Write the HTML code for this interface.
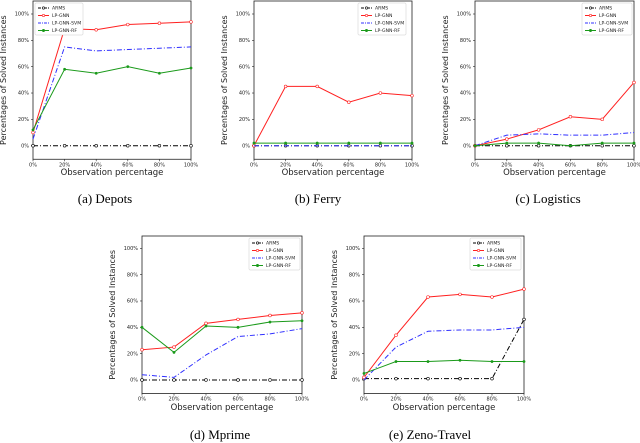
<!DOCTYPE html>
<html><head><meta charset="utf-8">
<style>
body{margin:0;background:#fff;width:640px;height:443px;overflow:hidden}
svg{display:block}
text{font-family:"DejaVu Sans","Liberation Sans",sans-serif}
.cap{font-family:"Liberation Serif",serif;font-size:13px}
</style></head>
<body>
<svg id="fig" width="640" height="443" viewBox="0 0 640 443" xmlns="http://www.w3.org/2000/svg"></svg>
<script>
const xCategories = [0, 20, 40, 60, 80, 100];
const xTickLabels = ["0%","20%","40%","60%","80%","100%"];
const yTickValues = [0, 20, 40, 60, 80, 100];
const yTickLabels = ["0%","20%","40%","60%","80%","100%"];
const seriesNames = ["ARMS","LP-GNN","LP-GNN-SVM","LP-GNN-RF"];

const depotsARMS = [0,0,0,0,0,0];
const depotsGNN = [10,89,88,92,93,94];
const depotsSVM = [5,75,72,73,74,75];
const depotsRF = [12,58,55,60,55,59];

const ferryARMS = [0,0,0,0,0,0];
const ferryGNN = [0,45,45,33,40,38];
const ferrySVM = [0,0,0,0,0,0];
const ferryRF = [2,2,2,2,2,2];

const logisticsARMS = [0,0,0,0,0,0];
const logisticsGNN = [0,5,12,22,20,48];
const logisticsSVM = [0,8,9,8,8,10];
const logisticsRF = [0,2,2,0,2,2];

const mprimeARMS = [0,0,0,0,0,0];
const mprimeGNN = [23,25,43,46,49,51];
const mprimeSVM = [4,2,19,33,35,39];
const mprimeRF = [40,21,41,40,44,45];

const zenoARMS = [1,1,1,1,1,46];
const zenoGNN = [2,34,63,65,63,69];
const zenoSVM = [0,25,37,38,38,40];
const zenoRF = [5,14,14,15,14,14];

const NS = "http://www.w3.org/2000/svg";
const fig = document.getElementById('fig');
function mk(tag, attrs, parent){
  const e = document.createElementNS(NS, tag);
  for (const k in attrs) e.setAttribute(k, attrs[k]);
  (parent||fig).appendChild(e);
  return e;
}
const styles = [
  {color:"#000", dash:"5,2,1,2", marker:"circle"},
  {color:"#ff2020", dash:"", marker:"open"},
  {color:"#3030ff", dash:"5,2,1,2", marker:"none"},
  {color:"#1a9a1a", dash:"", marker:"dot"}
];
const panels = [
  {key:"depots", cap:"(a)  Depots", x0:33, x1:191, yTop:1, yZero:145.7, capX:105, capY:203, xl:175, data:[depotsARMS,depotsGNN,depotsSVM,depotsRF], legend:[35,3], legendW:48},
  {key:"ferry", cap:"(b)  Ferry", x0:254, x1:412, yTop:1, yZero:145.7, capX:318, capY:203, xl:175, data:[ferryARMS,ferryGNN,ferrySVM,ferryRF], legend:[358,3], legendW:48},
  {key:"logistics", cap:"(c)  Logistics", x0:475, x1:634, yTop:1, yZero:145.7, capX:548, capY:203, xl:175, data:[logisticsARMS,logisticsGNN,logisticsSVM,logisticsRF], legend:[582,3], legendW:50},
  {key:"mprime", cap:"(d)  Mprime", x0:142, x1:302, yTop:236, yZero:380, capX:220, capY:439, xl:410, data:[mprimeARMS,mprimeGNN,mprimeSVM,mprimeRF], legend:[249,238], legendW:51},
  {key:"zeno", cap:"(e)  Zeno-Travel", x0:364, x1:524, yTop:236, yZero:380, capX:430, capY:439, xl:410, data:[zenoARMS,zenoGNN,zenoSVM,zenoRF], legend:[470,238], legendW:51}
];
const PX = 1.317;
panels.forEach(p=>{
  const g = mk('g', {});
  
  
  const sx = v => p.x0 + (v/100)*(p.x1-p.x0);
  const sy = v => p.yZero - v*PX;
  const yBot = sy(-10.3);
  const frame = mk('rect', {x:p.x0, y:p.yTop, width:p.x1-p.x0, height:yBot-p.yTop, fill:'none', stroke:'#222', 'stroke-width':0.8}, g);
  
  
  yTickValues.forEach((v,i)=>{
    mk('line',{x1:p.x0-2,x2:p.x0,y1:sy(v),y2:sy(v),stroke:'#222','stroke-width':0.6},g);
    const t = mk('text',{x:p.x0-4,y:sy(v)+1.7,'font-size':5,'text-anchor':'end',fill:'#222'},g);
    t.textContent = yTickLabels[i];
    
    
  });
  xCategories.forEach((v,i)=>{
    mk('line',{x1:sx(v),x2:sx(v),y1:yBot,y2:yBot+2,stroke:'#222','stroke-width':0.6},g);
    const t = mk('text',{x:sx(v),y:yBot+7,'font-size':5,'text-anchor':'middle',fill:'#222'},g);
    t.textContent = xTickLabels[i];
    
    
  });
  const xl = mk('text',{x:(p.x0+p.x1)/2,y:p.xl,'font-size':8.5,'text-anchor':'middle',fill:'#222'},g);
  xl.textContent = 'Observation percentage';
  
  
  const ycx = p.x0-27, ycy = (p.yTop+yBot)/2;
  const yl = mk('text',{x:ycx,y:ycy,'font-size':8,'text-anchor':'middle',fill:'#222',transform:`rotate(-90 ${ycx} ${ycy})`},g);
  yl.textContent = 'Percentages of Solved Instances';
  
  
  // series (draw ARMS last-ish order like matplotlib: in order)
  p.data.forEach((vals,si)=>{
    const st = styles[si];
    const pts = vals.map((v,i)=>sx(xCategories[i])+','+sy(v)).join(' ');
    const line = mk('polyline',{points:pts,fill:'none',stroke:st.color,'stroke-width':1,'stroke-dasharray':st.dash},g);
    
    
    if (st.marker!=='none') vals.forEach((v,i)=>{
      const m = mk('circle',{cx:sx(xCategories[i]),cy:sy(v),r:st.marker==='dot'?1.1:1.4,
        fill:st.marker==='open'||st.marker==='circle'?'#fff':st.color,stroke:st.color,'stroke-width':0.6},g);
      
      
    });
  });
  // legend
  const [lx,ly] = p.legend;
  const lg = mk('g',{},g);
  
  
  mk('rect',{x:lx,y:ly,width:p.legendW,height:32,fill:'#fff',stroke:'#ccc','stroke-width':0.5,rx:1},lg);
  seriesNames.forEach((n,si)=>{
    const st = styles[si];
    const yy = ly+5+si*7.5;
    mk('line',{x1:lx+3,x2:lx+14,y1:yy,y2:yy,stroke:st.color,'stroke-width':1,'stroke-dasharray':st.dash?'3,1,1,1':''},lg);
    if (st.marker!=='none') mk('circle',{cx:lx+8.5,cy:yy,r:1.2,fill:st.marker==='dot'?st.color:'#fff',stroke:st.color,'stroke-width':0.6},lg);
    const t = mk('text',{x:lx+17,y:yy+1.7,'font-size':4.6,fill:'#222'},lg);
    t.textContent = n;
    
    
  });
  const c = mk('text',{x:p.capX,y:p.capY,'text-anchor':'middle',class:'cap',fill:'#000'},g);
  c.textContent = p.cap;
  
  
});
</script>
</body></html>
